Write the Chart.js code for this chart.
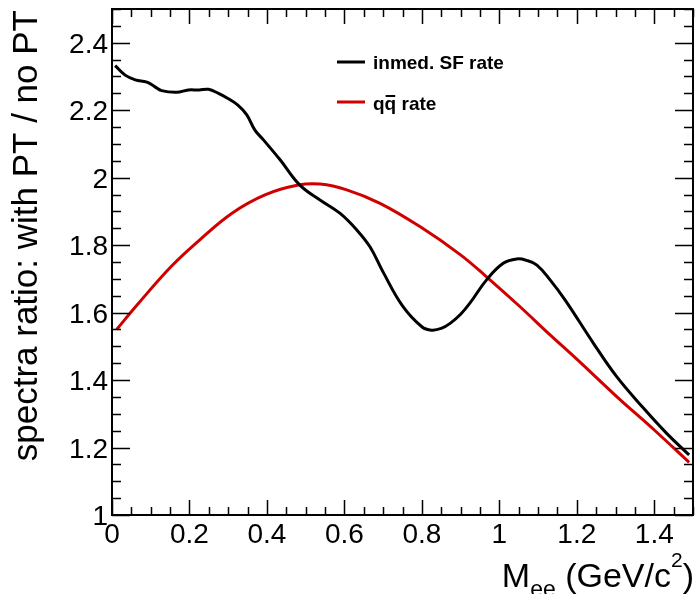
<!DOCTYPE html>
<html>
<head>
<meta charset="utf-8">
<script src="https://cdn.jsdelivr.net/npm/chart.js@4.4.0/dist/chart.umd.min.js"></script>
<style>
  html, body { margin: 0; padding: 0; background: #fff; }
  #wrap { width: 696px; height: 594px; }
</style>
</head>
<body>
<div id="wrap"><canvas id="ratioChart" width="696" height="594"></canvas></div>
<script>
// in-medium SF rate (black)
const sfMass = [0.008, 0.034, 0.06, 0.09, 0.11, 0.128, 0.167, 0.197, 0.225, 0.249, 0.275, 0.296, 0.325, 0.348, 0.369, 0.391, 0.434, 0.485, 0.537, 0.589, 0.632, 0.666, 0.70, 0.75, 0.80, 0.825, 0.85, 0.873, 0.90, 0.924, 0.967, 1.01, 1.045, 1.07, 1.097, 1.131, 1.17, 1.243, 1.303, 1.372, 1.432, 1.49];
const sfRatio = [2.332, 2.304, 2.29, 2.283, 2.27, 2.258, 2.253, 2.26, 2.26, 2.262, 2.25, 2.237, 2.215, 2.186, 2.141, 2.112, 2.053, 1.978, 1.934, 1.894, 1.845, 1.795, 1.72, 1.62, 1.558, 1.548, 1.553, 1.568, 1.595, 1.628, 1.697, 1.746, 1.759, 1.755, 1.741, 1.697, 1.637, 1.509, 1.41, 1.317, 1.242, 1.178];

// qqbar rate (red)
const qqMass = [0.012, 0.068, 0.154, 0.223, 0.309, 0.395, 0.481, 0.537, 0.606, 0.692, 0.795, 0.899, 0.967, 1.05, 1.131, 1.2, 1.303, 1.4, 1.49];
const qqRatio = [1.55, 1.627, 1.738, 1.812, 1.894, 1.949, 1.978, 1.981, 1.964, 1.924, 1.855, 1.772, 1.706, 1.621, 1.534, 1.462, 1.351, 1.252, 1.156];

const xTicks = [0, 0.2, 0.4, 0.6, 0.8, 1, 1.2, 1.4];
const xTickLabels = ['0', '0.2', '0.4', '0.6', '0.8', '1', '1.2', '1.4'];
const yTicks = [1, 1.2, 1.4, 1.6, 1.8, 2, 2.2, 2.4];
const yTickLabels = ['1', '1.2', '1.4', '1.6', '1.8', '2', '2.2', '2.4'];

const RED = '#d00000';
const FONT = '"Liberation Sans", Arial, sans-serif';

const toPoints = (xs, ys) => xs.map((x, i) => ({ x: x, y: ys[i] }));

// ROOT style frame, inward ticks, labels, titles and legend
const rootFrame = {
  id: 'rootFrame',
  afterDraw(chart) {
    const ctx = chart.ctx;
    const ca = chart.chartArea;
    const xs = chart.scales.x;
    const ys = chart.scales.y;
    ctx.save();
    ctx.strokeStyle = '#000';
    ctx.fillStyle = '#000';

    // ticks every 0.05 on all four sides
    ctx.lineWidth = 1.5;
    for (let i = 0; i <= 30; i++) {
      const major = i % 4 === 0;
      const px = Math.round(xs.getPixelForValue(i * 0.05)) + 0.5;
      const len = major ? 15 : 8;
      ctx.beginPath();
      ctx.moveTo(px, ca.bottom); ctx.lineTo(px, ca.bottom - len);
      ctx.moveTo(px, ca.top); ctx.lineTo(px, ca.top + len);
      ctx.stroke();
    }
    for (let i = 0; i <= 30; i++) {
      const major = i % 4 === 0;
      const py = Math.round(ys.getPixelForValue(1 + i * 0.05)) + 0.5;
      const len = major ? 18 : 9;
      ctx.beginPath();
      ctx.moveTo(ca.left, py); ctx.lineTo(ca.left + len, py);
      ctx.moveTo(ca.right, py); ctx.lineTo(ca.right - len, py);
      ctx.stroke();
    }

    // frame
    ctx.lineWidth = 2;
    ctx.strokeRect(ca.left, ca.top, ca.right - ca.left, ca.bottom - ca.top);

    // tick labels
    ctx.font = '28px ' + FONT;
    ctx.textAlign = 'right';
    ctx.textBaseline = 'alphabetic';
    yTicks.forEach((v, i) => {
      ctx.fillText(yTickLabels[i], ca.left - 4, ys.getPixelForValue(v) + 10);
    });
    ctx.textAlign = 'center';
    xTicks.forEach((v, i) => {
      ctx.fillText(xTickLabels[i], xs.getPixelForValue(v), ca.bottom + 28);
    });

    // y title
    ctx.save();
    ctx.translate(37, 10);
    ctx.rotate(-Math.PI / 2);
    ctx.font = '35px ' + FONT;
    ctx.textAlign = 'right';
    ctx.fillText('spectra ratio: with PT / no PT', 0, 0);
    ctx.restore();

    // x title: M_ee (GeV/c^2), right aligned
    const parts = [
      { t: 'M', f: '34px ', dy: 0 },
      { t: 'ee', f: '23px ', dy: 10 },
      { t: ' (GeV/c', f: '34px ', dy: 0 },
      { t: '2', f: '21px ', dy: -20 },
      { t: ')', f: '34px ', dy: 0 }
    ];
    ctx.textAlign = 'left';
    let total = 0;
    parts.forEach(p => { ctx.font = p.f + FONT; p.w = ctx.measureText(p.t).width; total += p.w; });
    let tx = 694 - total;
    parts.forEach(p => {
      ctx.font = p.f + FONT;
      ctx.fillText(p.t, tx, 587 + p.dy);
      tx += p.w;
    });

    // legend
    ctx.lineWidth = 3;
    ctx.strokeStyle = '#000';
    ctx.beginPath(); ctx.moveTo(337, 62); ctx.lineTo(365, 62); ctx.stroke();
    ctx.strokeStyle = RED;
    ctx.beginPath(); ctx.moveTo(337, 102); ctx.lineTo(365, 102); ctx.stroke();
    ctx.font = 'bold 19px ' + FONT;
    ctx.fillStyle = '#000';
    ctx.fillText('inmed. SF rate', 373, 69);
    const qw = ctx.measureText('q').width;
    ctx.fillText('qq rate', 373, 110);
    ctx.strokeStyle = '#000';
    ctx.lineWidth = 2;
    ctx.beginPath();
    ctx.moveTo(373 + qw + 1, 96); ctx.lineTo(373 + 2 * qw - 1, 96);
    ctx.stroke();

    ctx.restore();
  }
};

const ctx = document.getElementById('ratioChart').getContext('2d');

const ratioChart = new Chart(ctx, {
  type: 'line',
  data: {
    datasets: [
      {
        label: 'inmed. SF rate',
        data: toPoints(sfMass, sfRatio),
        borderColor: '#000',
        borderWidth: 3,
        pointRadius: 0,
        tension: 0.4,
        fill: false
      },
      {
        label: 'qq rate',
        data: toPoints(qqMass, qqRatio),
        borderColor: RED,
        borderWidth: 3,
        pointRadius: 0,
        tension: 0.4,
        fill: false
      }
    ]
  },
  options: {
    responsive: false,
    animation: false,
    devicePixelRatio: 1,
    layout: { padding: { left: 112, right: 3, top: 9, bottom: 79 } },
    scales: {
      x: { type: 'linear', min: 0, max: 1.5, display: false },
      y: { type: 'linear', min: 1, max: 2.5, display: false }
    },
    plugins: {
      legend: { display: false },
      tooltip: { enabled: false }
    }
  },
  plugins: [rootFrame]
});
</script>
</body>
</html>
